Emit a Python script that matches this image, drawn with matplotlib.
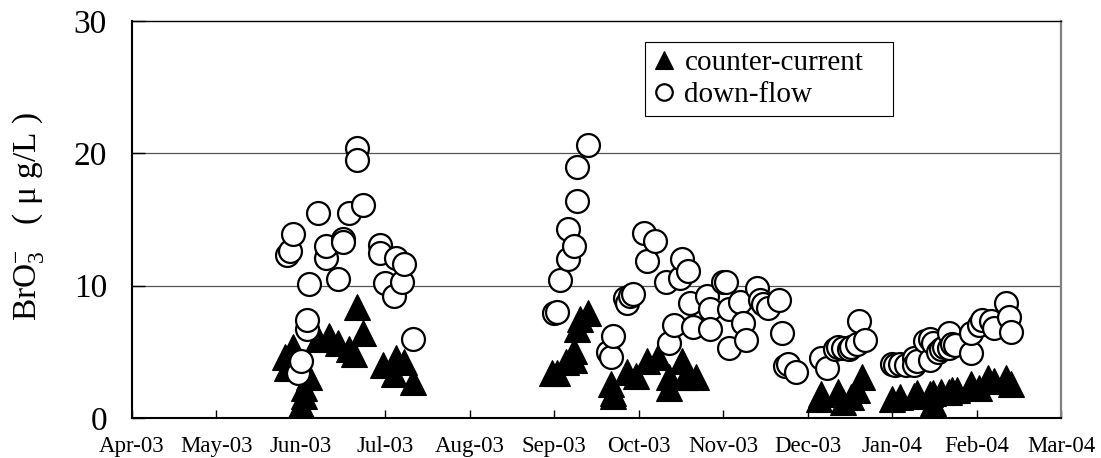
import matplotlib
matplotlib.use("Agg")
import matplotlib.pyplot as plt
import pandas as pd
import numpy as np

# ---------------- data ----------------
month_labels = ["Apr-03", "May-03", "Jun-03", "Jul-03", "Aug-03", "Sep-03",
                "Oct-03", "Nov-03", "Dec-03", "Jan-04", "Feb-04", "Mar-04"]
y_ticks = [0, 10, 20, 30]

cc_dates = [
    "2003-05-26", "2003-05-27", "2003-05-29", "2003-06-01", "2003-06-02", "2003-06-02",
    "2003-06-04", "2003-06-07", "2003-06-11", "2003-06-14", "2003-06-18", "2003-06-20",
    "2003-06-21", "2003-06-23", "2003-06-30", "2003-07-04", "2003-07-05", "2003-07-08",
    "2003-07-11",
    "2003-08-31", "2003-09-02", "2003-09-05", "2003-09-08", "2003-09-08", "2003-09-09",
    "2003-09-10", "2003-09-13", "2003-09-21", "2003-09-22", "2003-09-22", "2003-09-27",
    "2003-09-30", "2003-10-04", "2003-10-08", "2003-10-12", "2003-10-12", "2003-10-17",
    "2003-10-18", "2003-10-22",
    "2003-12-05", "2003-12-06", "2003-12-12", "2003-12-14", "2003-12-17", "2003-12-19",
    "2003-12-21",
    "2004-01-01", "2004-01-04", "2004-01-09", "2004-01-10", "2004-01-15", "2004-01-16",
    "2004-01-16", "2004-01-19", "2004-01-22", "2004-01-23", "2004-01-25", "2004-01-30",
    "2004-02-02", "2004-02-05", "2004-02-07", "2004-02-11", "2004-02-13",
]
cc_values = [
    4.6, 3.8, 5.4, 1.0, 1.7, 2.3,
    3.1, 6.0, 6.2, 5.7, 5.2, 4.8,
    8.4, 6.4, 4.0, 3.3, 4.5, 4.2,
    2.7,
    3.4, 3.4, 4.2, 5.1, 4.4, 6.7,
    7.5, 7.9, 2.6, 1.9, 1.7, 3.5,
    3.2, 4.3, 4.6, 3.1, 2.3, 4.3,
    3.1, 3.1,
    1.4, 1.8, 2.0, 1.2, 1.6, 2.1,
    3.1,
    1.4, 1.6, 1.7, 1.9, 1.8, 1.1,
    1.9, 2.0, 2.0, 2.1, 2.1, 2.6,
    2.3, 3.0, 2.8, 3.0, 2.6,
]

df_dates = [
    "2003-05-27", "2003-05-28", "2003-05-29", "2003-05-31", "2003-06-01", "2003-06-03",
    "2003-06-03", "2003-06-04", "2003-06-07", "2003-06-10", "2003-06-10", "2003-06-14",
    "2003-06-16", "2003-06-16", "2003-06-18", "2003-06-21", "2003-06-21", "2003-06-23",
    "2003-06-29", "2003-06-29", "2003-07-01", "2003-07-04", "2003-07-05", "2003-07-07",
    "2003-07-08", "2003-07-11",
    "2003-09-01", "2003-09-02", "2003-09-03", "2003-09-06", "2003-09-06", "2003-09-08",
    "2003-09-09", "2003-09-09", "2003-09-13", "2003-09-20", "2003-09-21", "2003-09-22",
    "2003-09-26", "2003-09-27", "2003-09-28", "2003-09-29", "2003-10-03", "2003-10-04",
    "2003-10-07", "2003-10-11", "2003-10-12", "2003-10-14", "2003-10-16", "2003-10-17",
    "2003-10-19", "2003-10-20", "2003-10-21", "2003-10-26", "2003-10-27", "2003-10-27",
    "2003-11-01", "2003-11-02", "2003-11-03", "2003-11-03", "2003-11-07", "2003-11-08",
    "2003-11-09", "2003-11-13", "2003-11-14", "2003-11-15", "2003-11-17", "2003-11-21",
    "2003-11-22", "2003-11-23", "2003-11-24", "2003-11-27",
    "2003-12-06", "2003-12-08", "2003-12-11", "2003-12-12", "2003-12-14", "2003-12-16",
    "2003-12-17", "2003-12-19", "2003-12-20", "2003-12-22",
    "2004-01-01", "2004-01-02", "2004-01-04", "2004-01-06", "2004-01-09", "2004-01-09",
    "2004-01-10", "2004-01-13", "2004-01-15", "2004-01-15", "2004-01-16", "2004-01-18",
    "2004-01-19", "2004-01-20", "2004-01-22", "2004-01-22", "2004-01-23", "2004-01-24",
    "2004-01-30", "2004-01-30", "2004-02-02", "2004-02-03", "2004-02-06", "2004-02-07",
    "2004-02-11", "2004-02-12", "2004-02-13",
]
df_values = [
    12.3, 12.6, 13.9, 3.4, 4.3, 6.7,
    7.4, 10.1, 15.5, 12.1, 13.0, 10.5,
    13.5, 13.3, 15.5, 20.4, 19.5, 16.1,
    13.1, 12.5, 10.2, 9.2, 12.1, 10.3,
    11.6, 6.0,
    7.9, 8.0, 10.4, 14.3, 12.0, 13.0,
    16.4, 19.0, 20.6, 5.0, 4.6, 6.2,
    9.1, 8.7, 9.2, 9.4, 14.0, 11.9,
    13.4, 10.3, 5.7, 7.0, 10.6, 12.0,
    11.1, 8.7, 6.9, 9.2, 8.2, 6.7,
    10.3, 10.3, 8.2, 5.3, 8.8, 7.2,
    5.9, 9.8, 8.9, 8.6, 8.3, 8.9,
    6.4, 3.9, 4.1, 3.5,
    4.5, 3.8, 5.2, 5.4, 5.3, 5.2,
    5.4, 5.6, 7.3, 5.9,
    4.1, 4.0, 4.1, 4.0, 4.5, 4.0,
    4.3, 5.8, 4.4, 6.0, 5.7, 5.0,
    5.2, 5.4, 6.4, 5.3, 5.6, 5.5,
    4.9, 6.4, 7.0, 7.4, 7.3, 6.8,
    8.7, 7.6, 6.5,
]


def month_pos(dates):
    d = pd.to_datetime(pd.Series(dates))
    return ((d.dt.year - 2003) * 12 + d.dt.month - 4
            + (d.dt.day - 1) / d.dt.days_in_month).to_numpy()


# ---------------- style ----------------
plt.rcParams["font.family"] = ["Liberation Serif", "DejaVu Serif"]
plt.rcParams["mathtext.fontset"] = "custom"
plt.rcParams["mathtext.rm"] = "Liberation Serif"
plt.rcParams["mathtext.it"] = "Liberation Serif:italic"

W, H = 1101, 458
fig = plt.figure(figsize=(W / 100, H / 100), dpi=100)
ax = fig.add_axes([132 / W, 1 - 418 / H, (1061 - 132) / W, (418 - 21) / H])

ax.plot(month_pos(cc_dates), cc_values, linestyle="none", marker="^",
        markersize=18.5, markerfacecolor="black", markeredgecolor="black",
        markeredgewidth=0.8, label="counter-current", zorder=3)
ax.plot(month_pos(df_dates), df_values, linestyle="none", marker="o",
        markersize=16.5, markerfacecolor="white", markeredgecolor="black",
        markeredgewidth=1.6, label="down-flow", zorder=4)

ax.set_xlim(0, len(month_labels) - 1)
ax.set_ylim(y_ticks[0], y_ticks[-1])
ax.set_xticks(np.arange(len(month_labels)))
ax.set_xticklabels(month_labels, fontsize=16.5)
ax.set_yticks(y_ticks)
ax.set_yticklabels([str(v) for v in y_ticks], fontsize=24)
ax.tick_params(axis="x", direction="in", length=6, width=1, pad=13)
ax.tick_params(axis="y", direction="in", length=9, width=1, pad=18)

for v in y_ticks[1:-1]:
    ax.axhline(v, color="#555555", linewidth=0.9, zorder=1)

ax.spines["left"].set_linewidth(1.5)
ax.spines["bottom"].set_linewidth(1.5)
ax.spines["top"].set_linewidth(1.0)
ax.spines["top"].set_color("black")
ax.spines["right"].set_color("#808080")
ax.spines["right"].set_linewidth(1.6)

fig.text(28 / W, 1 - 217 / H, r"BrO$_3^{-}$   ( μ g/L )", rotation=90,
         ha="center", va="center", fontsize=24)

leg = ax.legend(loc="upper left",
                bbox_to_anchor=(645 / W, 1 - 47 / H, (893 - 645) / W, 0.01),
                bbox_transform=fig.transFigure, mode="expand",
                fontsize=21, frameon=True, fancybox=False, shadow=False,
                borderpad=0.25, labelspacing=0.2, handletextpad=0.3,
                handlelength=0.8, borderaxespad=0, markerscale=0.72)
leg.get_frame().set_edgecolor("black")
leg.get_frame().set_linewidth(0.8)
leg.get_frame().set_alpha(1)

fig.savefig("out.png", dpi=100)
